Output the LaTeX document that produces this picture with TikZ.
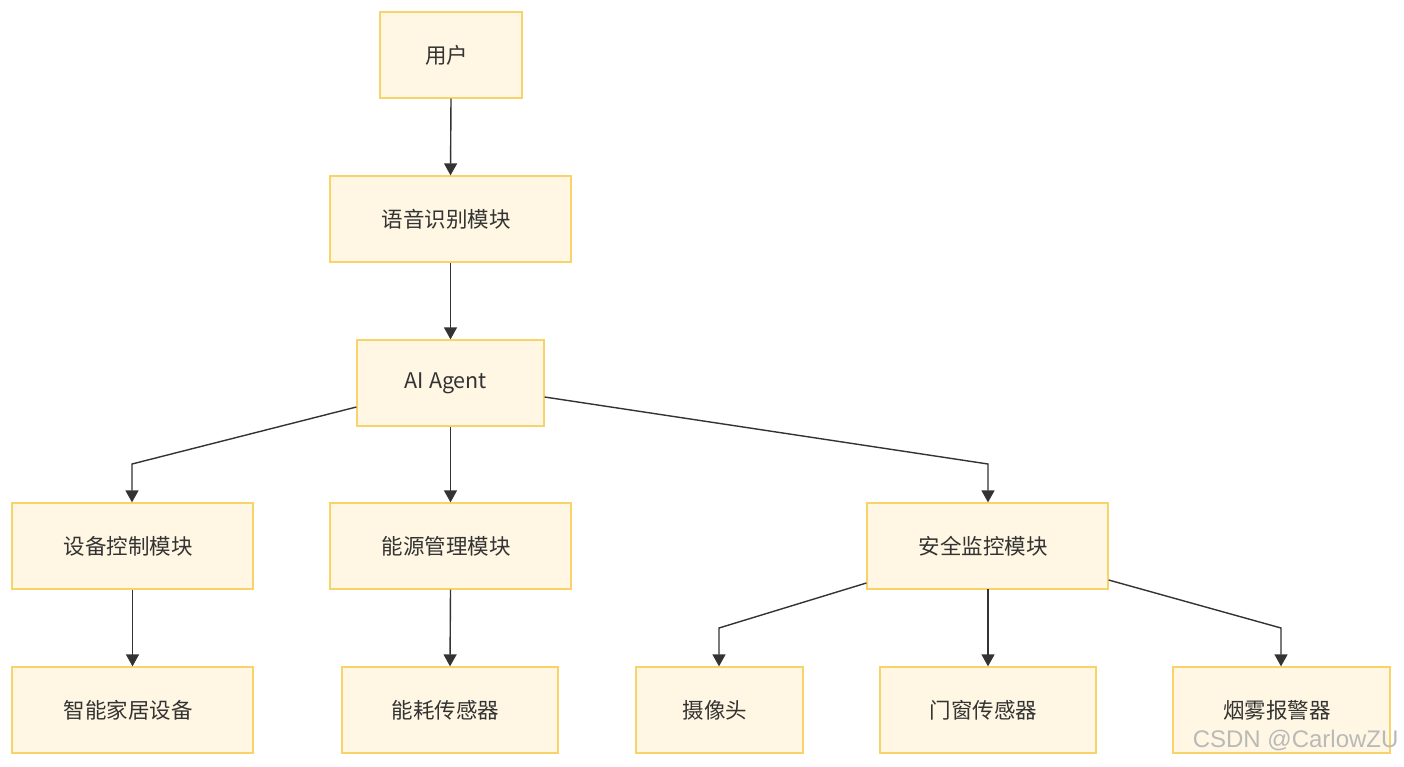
\documentclass[tikz,border=0pt]{standalone}
\usepackage{fontspec}
\setmainfont{Noto Sans CJK SC}
\newfontfamily\wmfont{Liberation Sans}
\usetikzlibrary{arrows.meta}
\definecolor{boxfill}{HTML}{FFF7E3}
\definecolor{boxdraw}{HTML}{F8D36A}
\definecolor{linecol}{HTML}{333333}
\begin{document}
\begin{tikzpicture}[x=1pt,y=-1pt,
  box/.style={draw=boxdraw,fill=boxfill,line width=1.3pt,minimum height=86pt,inner sep=0pt,font=\fontsize{21.5}{24}\selectfont,text=linecol,execute at begin node={\hspace*{-9pt}}},
  conn/.style={draw=linecol,line width=1.4pt,-{Triangle[width=13pt,length=12pt]}}]
\useasboundingbox[fill=white] (0,0) rectangle (1404,766);
\node[box,minimum width=142pt] (user) at (451,55) {用户};
\node[box,minimum width=241pt] (asr) at (450.5,219) {语音识别模块};
\node[box,minimum width=187pt] (ai) at (450.5,383) {AI Agent};
\node[box,minimum width=241pt] (dev) at (132.5,546) {设备控制模块};
\node[box,minimum width=241pt] (energy) at (450.5,546) {能源管理模块};
\node[box,minimum width=241pt] (sec) at (987.5,546) {安全监控模块};
\node[box,minimum width=241pt] (home) at (132.5,710) {智能家居设备};
\node[box,minimum width=216pt] (meter) at (450,710) {能耗传感器};
\node[box,minimum width=167pt] (cam) at (719.5,710) {摄像头};
\node[box,minimum width=216pt] (door) at (988,710) {门窗传感器};
\node[box,minimum width=217pt] (smoke) at (1281.5,710) {烟雾报警器};
\coordinate (c1) at (132,464);
\coordinate (c2) at (988,464);
\coordinate (c3) at (719,628);
\coordinate (c4) at (1281,628);
\draw[conn] (user.south) -- (asr.north);
\draw[conn] (asr.south) -- (ai.north);
\draw[conn] (ai.south) -- (energy.north);
\draw[conn] (ai.south west |- 0,407) -- (c1) -- (c1 |- dev.north);
\draw[conn] (ai.south east |- 0,397) -- (c2) -- (c2 |- sec.north);
\draw[conn] (dev.south) -- (home.north);
\draw[conn] (energy.south) -- (meter.north);
\draw[conn] (sec.west |- 0,583) -- (c3) -- (c3 |- cam.north);
\draw[conn] (988,589) -- (door.north);
\draw[conn] (sec.east |- 0,580) -- (c4) -- (c4 |- smoke.north);
\node[font=\wmfont\fontsize{24}{28}\selectfont,text=gray!55,anchor=east] (wm) at (1402,740) {CSDN @CarlowZU};
\end{tikzpicture}
\end{document}
